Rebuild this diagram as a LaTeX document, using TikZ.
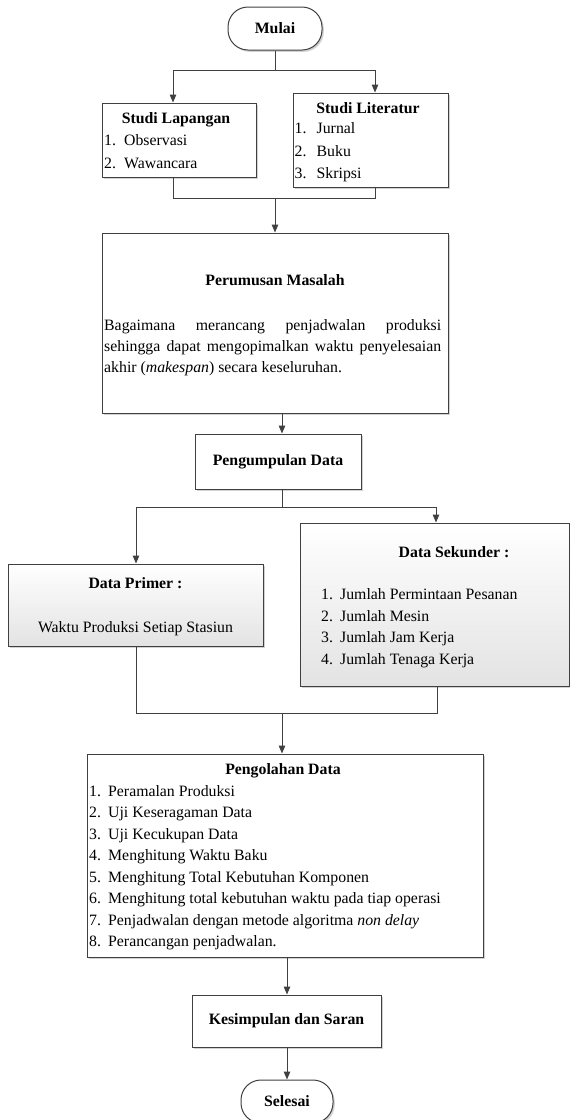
\documentclass[tikz,border=0pt]{standalone}
\usepackage{fontspec}
\setmainfont{Liberation Serif}
\usetikzlibrary{arrows.meta,shadows}
\definecolor{ln}{HTML}{404040}
\newcommand{\lnum}[2]{\makebox[#1][l]{#2}}
\tikzset{
  fnt/.style={font=\fontsize{15.8}{20}\selectfont},
  bfnt/.style={font=\bfseries\fontsize{15.8}{20}\selectfont},
  box/.style={draw=ln, line width=1pt, fill=white, inner sep=0pt, bfnt,
    drop shadow={shadow xshift=1.8pt, shadow yshift=-1.8pt, fill=black!22, opacity=0.8}},
  gbox/.style={box, top color=white, bottom color=black!11},
  term/.style={box, rounded corners=20pt},
  conn/.style={draw=ln, line width=1pt},
  arr/.style={conn, -{Triangle[length=8pt,width=6.5pt]}},
  txt/.style={inner sep=0pt, anchor=base west, fnt},
  ttl/.style={inner sep=0pt, anchor=base, bfnt},
}
\begin{document}
\begin{tikzpicture}[x=1pt,y=-1pt]
\fill[white] (0,0) rectangle (570,1120);
\useasboundingbox (0,0) rectangle (570,1120);

% Mulai
\node[term, minimum width=94pt, minimum height=43pt] (mulai) at (275,28.5) {Mulai};

% Studi Lapangan
\node[box, minimum width=154pt, minimum height=74pt] (lap) at (179,140) {};
\node[ttl] (lapT) at (176,123) {Studi Lapangan};
\node[txt] (lap1) at (104,145.5) {\lnum{20pt}{1.}Observasi};
\node[txt] (lap2) at (104,168) {\lnum{20pt}{2.}Wawancara};

% Studi Literatur
\node[box, minimum width=155pt, minimum height=94pt] (lit) at (370.5,140) {};
\node[ttl] (litT) at (368,113) {Studi Literatur};
\node[txt] (lit1) at (294.5,133.5) {\lnum{22pt}{1.}Jurnal};
\node[txt] (lit2) at (294.5,156) {\lnum{22pt}{2.}Buku};
\node[txt] (lit3) at (294.5,178.5) {\lnum{22pt}{3.}Skripsi};

% Perumusan Masalah
\node[box, minimum width=346pt, minimum height=180pt] (rum) at (275,323) {};
\node[ttl] (rumT) at (275,285) {Perumusan Masalah};
\node[txt] (rum1) at (104,330.5) {\makebox[337pt][s]{Bagaimana merancang penjadwalan produksi}};
\node[txt] (rum2) at (104,351.5) {\makebox[337pt][s]{sehingga dapat mengopimalkan waktu penyelesaian}};
\node[txt] (rum3) at (104,372.5) {akhir (\textit{makespan}) secara keseluruhan.};

% Pengumpulan Data
\node[box, minimum width=166pt, minimum height=55pt] (peng) at (278,461.5) {Pengumpulan Data};

% Data Primer
\node[gbox, minimum width=255pt, minimum height=82pt] (prim) at (135.5,605) {};
\node[ttl] (primT) at (135.5,588.5) {Data Primer :};
\node[ttl, fnt] (prim1) at (135.5,632.5) {Waktu Produksi Setiap Stasiun};

% Data Sekunder
\node[gbox, minimum width=269pt, minimum height=163pt] (sek) at (434.5,604.5) {};
\node[ttl] (sekT) at (454,557) {Data Sekunder :};
\node[txt] (sek1) at (321,599) {\lnum{19pt}{1.}Jumlah Permintaan Pesanan};
\node[txt] (sek2) at (321,621) {\lnum{19pt}{2.}Jumlah Mesin};
\node[txt] (sek3) at (321,642.5) {\lnum{19pt}{3.}Jumlah Jam Kerja};
\node[txt] (sek4) at (321,664.5) {\lnum{19pt}{4.}Jumlah Tenaga Kerja};

% Pengolahan Data
\node[box, minimum width=396pt, minimum height=203pt] (olah) at (285,855.5) {};
\node[ttl] (olahT) at (283,774.5) {Pengolahan Data};
\node[txt] (o1) at (89,796) {\lnum{19pt}{1.}Peramalan Produksi};
\node[txt] (o2) at (89,817.5) {\lnum{19pt}{2.}Uji Keseragaman Data};
\node[txt] (o3) at (89,839) {\lnum{19pt}{3.}Uji Kecukupan Data};
\node[txt] (o4) at (89,860.5) {\lnum{19pt}{4.}Menghitung Waktu Baku};
\node[txt] (o5) at (89,882) {\lnum{19pt}{5.}Menghitung Total Kebutuhan Komponen};
\node[txt] (o6) at (89,903.5) {\lnum{19pt}{6.}Menghitung total kebutuhan waktu pada tiap operasi};
\node[txt] (o7) at (89,925) {\lnum{19pt}{7.}Penjadwalan dengan metode algoritma \textit{non delay}};
\node[txt] (o8) at (89,946.5) {\lnum{19pt}{8.}Perancangan penjadwalan.};

% Kesimpulan dan Saran
\node[box, minimum width=189pt, minimum height=52pt] (kes) at (286.5,1021) {Kesimpulan dan Saran};

% Selesai
\node[term, minimum width=92pt, minimum height=43pt] (sel) at (287,1101.5) {Selesai};

% connectors
\coordinate (a0) at (275,70);
\coordinate (aL) at (173,70);
\coordinate (aR) at (375,70);
\draw[conn] (mulai.south) -- (a0);
\draw[arr] (a0) -- (aL) -- (aL |- lap.north);
\draw[arr] (a0) -- (aR) -- (aR |- lit.north);

\coordinate (mL) at (173,198);
\coordinate (mR) at (375,198);
\draw[conn] (mL |- lap.south) -- (mL) -- (mR) -- (mR |- lit.south);
\draw[arr] (rum.north |- mL) -- (rum.north);

\coordinate (p0) at (282,420);
\draw[arr] (p0 |- rum.south) -- (p0 |- peng.north);

\coordinate (b0) at (282,507);
\coordinate (bL) at (136,507);
\coordinate (bR) at (436,507);
\draw[conn] (b0 |- peng.south) -- (b0);
\draw[arr] (b0) -- (bL) -- (bL |- prim.north);
\draw[arr] (b0) -- (bR) -- (bR |- sek.north);

\coordinate (jL) at (136,713);
\coordinate (jR) at (437,713);
\coordinate (j0) at (282,713);
\draw[conn] (jL |- prim.south) -- (jL) -- (jR) -- (jR |- sek.south);
\draw[arr] (j0) -- (j0 |- olah.north);

\coordinate (k0) at (287,976);
\draw[arr] (k0 |- olah.south) -- (k0 |- kes.north);
\draw[arr] (k0 |- kes.south) -- (k0 |- sel.north);
\end{tikzpicture}
\end{document}
